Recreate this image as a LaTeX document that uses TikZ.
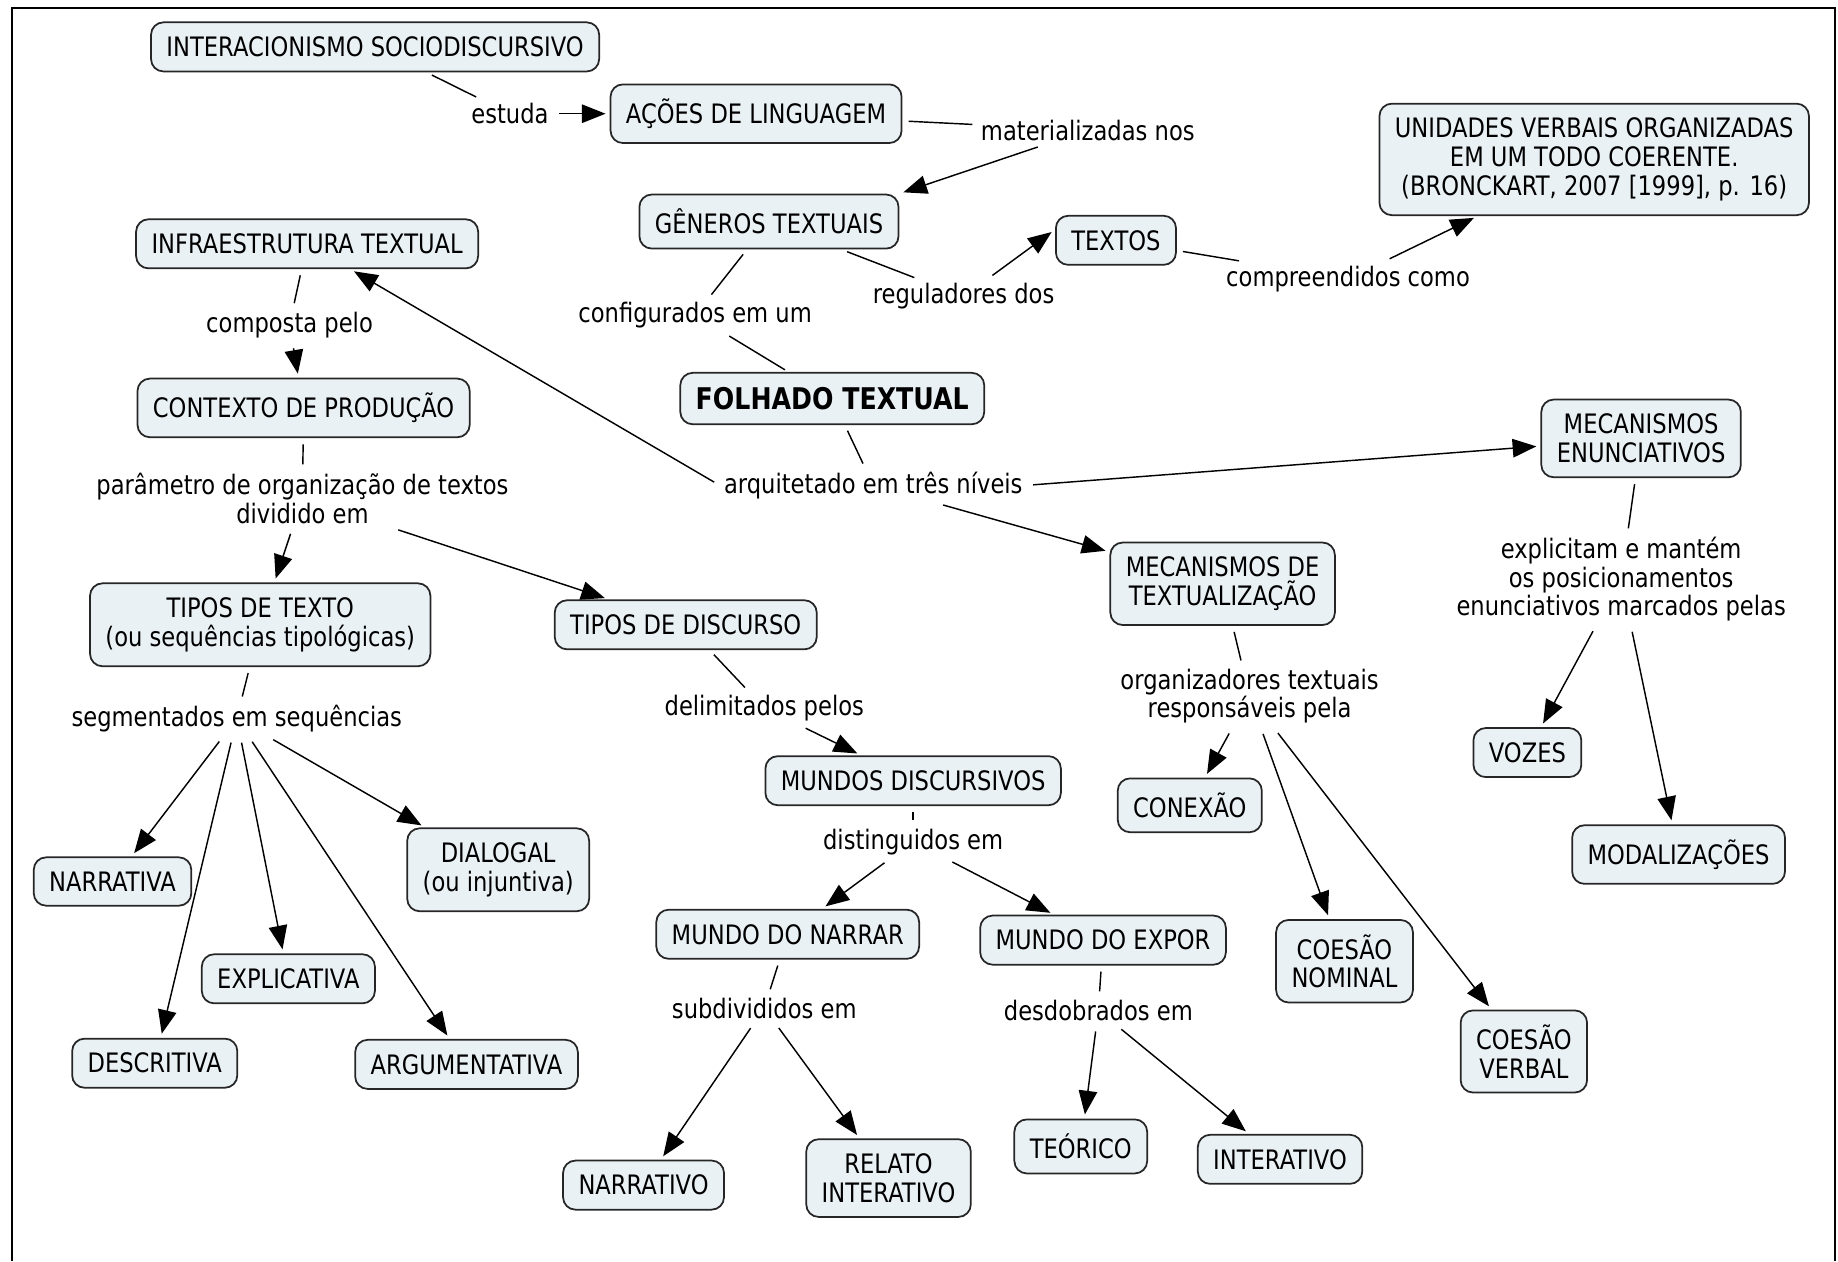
\documentclass[tikz,border=0pt]{standalone}
\usepackage{fontspec}
\setmainfont{DejaVu Sans}[FakeStretch=0.845]
\usetikzlibrary{arrows.meta}
\definecolor{conceptfill}{RGB}{234,241,245}
\begin{document}
\begin{tikzpicture}[x=0.02cm, y=-0.02cm, concept/.style={draw=black!85, fill=conceptfill, line width=0.85pt, rounded corners=6pt, align=center, inner xsep=7.5pt, inner ysep=7pt, font=\fontsize{13}{13.9}\selectfont}, phrase/.style={align=center, inner sep=2pt, font=\fontsize{13}{13.9}\selectfont}, link/.style={line width=0.7pt, shorten <=3pt, shorten >=2pt}, arr/.style={link, -{Triangle[length=11.5pt, width=9pt]}}]
	\useasboundingbox (0,0) rectangle (1568,1076);
	\draw[line width=1pt] (10.5,1076) -- (10.5,7) -- (1565.5,7) -- (1565.5,1076);

	% concepts
	\node[concept] (inter) at (320,40) {INTERACIONISMO SOCIODISCURSIVO}; \node[concept] (acoes) at (645,97) {AÇÕES DE LINGUAGEM};
	\node[concept] (generos) at (656,189) {GÊNEROS TEXTUAIS}; \node[concept] (textos) at (952,205) {TEXTOS};
	\node[concept] (unidades) at (1360,136) {UNIDADES VERBAIS ORGANIZADAS\\EM UM TODO COERENTE.\\(BRONCKART, 2007 [1999], p. 16)};
	\node[concept] (infra) at (262,208) {INFRAESTRUTURA TEXTUAL}; \node[concept] (contexto) at (259,348) {CONTEXTO DE PRODUÇÃO};
	\node[concept, font=\fontsize{14.5}{15}\selectfont\bfseries] (folhado) at (710,340) {FOLHADO TEXTUAL};
	\node[concept] (menun) at (1400,374) {MECANISMOS\\ENUNCIATIVOS}; \node[concept] (mtext) at (1043,498) {MECANISMOS DE\\TEXTUALIZAÇÃO};
	\node[concept] (ttexto) at (222,533) {TIPOS DE TEXTO\\(ou sequências tipológicas)}; \node[concept] (tdisc) at (585,533) {TIPOS DE DISCURSO};
	\node[concept] (mundos) at (779,666) {MUNDOS DISCURSIVOS}; \node[concept] (conexao) at (1015,687) {CONEXÃO};
	\node[concept] (vozes) at (1303,642) {VOZES}; \node[concept] (modal) at (1432,729) {MODALIZAÇÕES};
	\node[concept] (narrativa) at (96,752) {NARRATIVA}; \node[concept] (dialogal) at (425,742) {DIALOGAL\\(ou injuntiva)};
	\node[concept] (explic) at (246,835) {EXPLICATIVA}; \node[concept] (descr) at (132,907) {DESCRITIVA}; \node[concept] (argum) at (398,908) {ARGUMENTATIVA};
	\node[concept] (narrar) at (672,797) {MUNDO DO NARRAR}; \node[concept] (expor) at (941,802) {MUNDO DO EXPOR};
	\node[concept] (cnominal) at (1147,820) {COESÃO\\NOMINAL}; \node[concept] (cverbal) at (1300,897) {COESÃO\\VERBAL};
	\node[concept] (narrativo) at (549,1011) {NARRATIVO}; \node[concept] (relato) at (758,1005) {RELATO\\INTERATIVO};
	\node[concept] (teorico) at (922,978) {TEÓRICO}; \node[concept] (interativo) at (1092,989) {INTERATIVO};

	% linking phrases
	\node[phrase] (estuda) at (435,97) {estuda}; \node[phrase] (mater) at (928,111) {materializadas nos};
	\node[phrase] (config) at (593,269) {configurados em um}; \node[phrase] (regul) at (822,253) {reguladores dos};
	\node[phrase] (compr) at (1150,238) {compreendidos como}; \node[phrase] (composta) at (247,277) {composta pelo};
	\node[phrase] (param) at (258,425) {parâmetro de organização de textos\\dividido em};
	\node[phrase] (arquit) at (745,414) {arquitetado em três níveis};
	\node[phrase] (explicit) at (1383,494) {explicitam e mantém\\os posicionamentos\\enunciativos marcados pelas};
	\node[phrase] (organiz) at (1066,594) {organizadores textuais\\responsáveis pela};
	\node[phrase] (segm) at (202,613) {segmentados em sequências}; \node[phrase] (delim) at (652,604) {delimitados pelos};
	\node[phrase] (disting) at (779,718) {distinguidos em}; \node[phrase] (subdiv) at (652,860) {subdivididos em};
	\node[phrase] (desdob) at (937,862) {desdobrados em};

	% links
	\draw[link] (inter) -- (estuda); \draw[arr] (estuda) -- (acoes);
	\draw[link] (acoes) -- (mater); \draw[arr] (mater) -- (generos.north east);
	\draw[link] (generos) -- (config); \draw[link] (config) -- (folhado);
	\draw[link] (generos) -- (regul); \draw[arr] (regul) -- (textos.170);
	\draw[link] (textos) -- (compr); \draw[arr] (compr) -- (unidades);
	\draw[link] (folhado) -- (arquit);
	\draw[arr] (arquit.west) -- (infra); \draw[arr] (arquit.east) -- (menun); \draw[arr] (arquit) -- (mtext);
	\draw[link] (infra) -- (composta); \draw[arr] (composta) -- (contexto);
	\draw[link] (contexto) -- (param); \draw[arr] (param) -- (ttexto); \draw[arr] (param) -- (tdisc);
	\draw[link] (ttexto) -- (segm);
	\foreach \t in {narrativa, descr, explic, argum, dialogal} \draw[arr] (segm) -- (\t);
	\draw[link] (tdisc) -- (delim); \draw[arr] (delim) -- (mundos);
	\draw[link] (mundos) -- (disting); \draw[arr] (disting) -- (narrar); \draw[arr] (disting) -- (expor);
	\draw[link] (narrar) -- (subdiv); \draw[arr] (subdiv) -- (narrativo); \draw[arr] (subdiv) -- (relato);
	\draw[link] (expor) -- (desdob); \draw[arr] (desdob) -- (teorico); \draw[arr] (desdob) -- (interativo);
	\draw[link] (mtext) -- (organiz);
	\foreach \t in {conexao, cnominal, cverbal} \draw[arr] (organiz) -- (\t);
	\draw[link] (menun) -- (explicit); \draw[arr] (explicit) -- (vozes); \draw[arr] (explicit) -- (modal);
\end{tikzpicture}
\end{document}
